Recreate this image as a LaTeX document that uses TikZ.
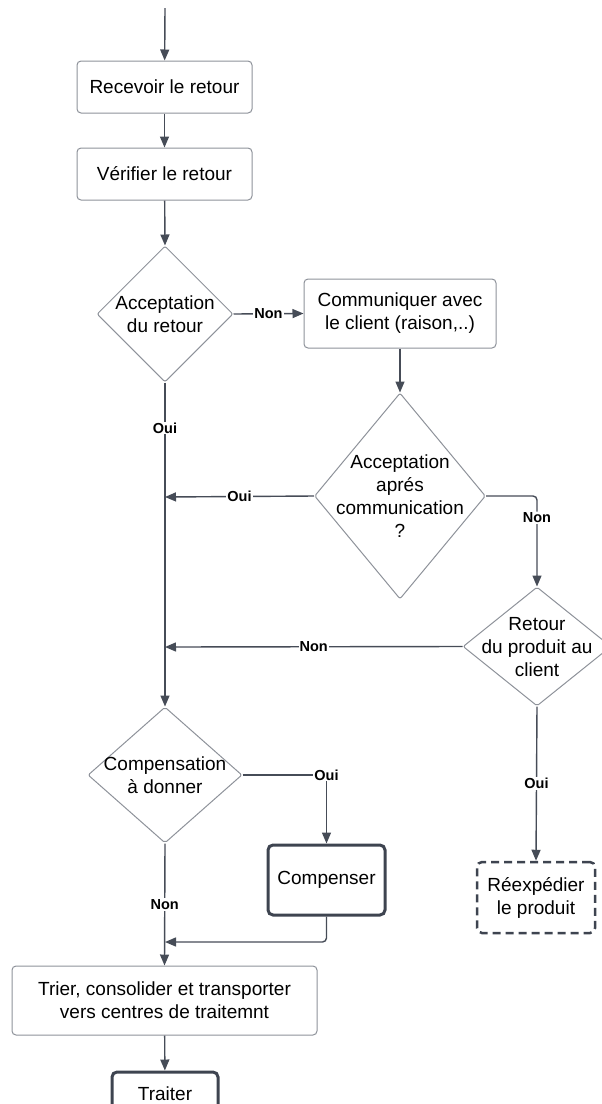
\documentclass[tikz,border=0pt]{standalone}
\usepackage{fontspec}
\setmainfont{Liberation Sans}
\usetikzlibrary{shapes.geometric,arrows.meta}

\definecolor{wire}{HTML}{464C57}
\definecolor{rim}{HTML}{8E929A}
\definecolor{darkrim}{HTML}{3E4450}

\tikzset{
  txt/.style={font=\fontsize{19}{23}\selectfont, align=center},
  stepbox/.style={txt, draw=rim, line width=1pt, rounded corners=4pt, fill=white, inner sep=0pt},
  keybox/.style={txt, draw=darkrim, line width=3pt, rounded corners=5pt, fill=white, inner sep=0pt},
  dashbox/.style={txt, draw=darkrim, line width=2.5pt, dash pattern=on 8pt off 5pt, rounded corners=5pt, fill=white, inner sep=0pt},
  choice/.style={diamond, draw=rim, line width=1pt, rounded corners=2pt, fill=white, inner sep=0pt},
  arr/.style={draw=wire, line width=1.4pt, -{Triangle[length=11pt,width=9pt]}},
  ln/.style={draw=wire, line width=1.4pt},
  lbl/.style={font=\fontsize{14.5}{16}\selectfont\bfseries, fill=white, inner sep=1pt, text=black}
}

\begin{document}
\begin{tikzpicture}[x=1pt,y=-1pt]
\useasboundingbox (0,0) rectangle (602,1104);
\clip (0,0) rectangle (602,1104);

% process boxes
\node[stepbox, minimum width=175pt, minimum height=52pt] (recv) at (164.5,87) {Recevoir le retour};
\node[stepbox, minimum width=175pt, minimum height=52pt] (verif) at (164.5,174) {Vérifier le retour};
\node[stepbox, minimum width=192pt, minimum height=69pt] (comm) at (400,313.5) {Communiquer avec\\le client (raison,..)};
\node[keybox, minimum width=117pt, minimum height=70pt] (comp) at (326.5,880) {Compenser};
\node[dashbox, minimum width=118pt, minimum height=71pt] (reex) at (536,897.5) {Réexpédier\\le produit};
\node[stepbox, minimum width=305pt, minimum height=69pt] (trier) at (164.5,1000.5) {Trier, consolider et transporter\\vers centres de traitemnt};
\node[keybox, minimum width=106pt, minimum height=44pt] (trait) at (165,1094) {Traiter};

% decisions
\node[choice, minimum width=136pt, minimum height=136pt,
  label={[txt]center:Acceptation\\du retour}] (d1) at (165,314) {};
\node[choice, minimum width=171pt, minimum height=206pt,
  label={[txt]center:Acceptation\\aprés\\communication\\?}] (d2) at (400,496) {};
\node[choice, minimum width=148pt, minimum height=119pt,
  label={[txt, yshift=-1pt]center:Retour\\du produit au\\client}] (d3) at (537,646.5) {};
\node[choice, minimum width=154pt, minimum height=136pt,
  label={[txt]center:Compensation\\à donner}] (d4) at (165,775) {};

% junction points on the main vertical line
\coordinate (start) at (165,8);
\coordinate (j1) at (165,497);
\coordinate (j2) at (165,647);
\coordinate (j3) at (165,942);

% connectors
\draw[arr] (start) -- (recv);
\draw[arr] (recv) -- (verif);
\draw[arr] (verif) -- (d1.north);
\draw[arr] (d1.east) -- node[lbl] {Non} (comm.west);
\draw[arr] (comm) -- (d2.north);
\draw[arr] (d2.west) -- node[lbl] {Oui} (j1);
\draw[arr, rounded corners=4pt] (d2.east) -| node[lbl, pos=0.62] {Non} (d3.north);
\draw[arr] (d3.west) -- node[lbl] {Non} (j2);
\draw[arr] (d3.south) -- node[lbl] {Oui} (reex.north);
\draw[arr] (d1.south) -- node[lbl, pos=0.14] {Oui} (d4.north);
\draw[arr] (d4.east) -| node[lbl, pos=0.5] {Oui} (comp.north);
\draw[arr] (d4.south) -- node[lbl] {Non} (trier.north);
\draw[arr, rounded corners=4pt] (comp.south) |- (j3);
\draw[arr] (trier) -- (trait);
\end{tikzpicture}
\end{document}
